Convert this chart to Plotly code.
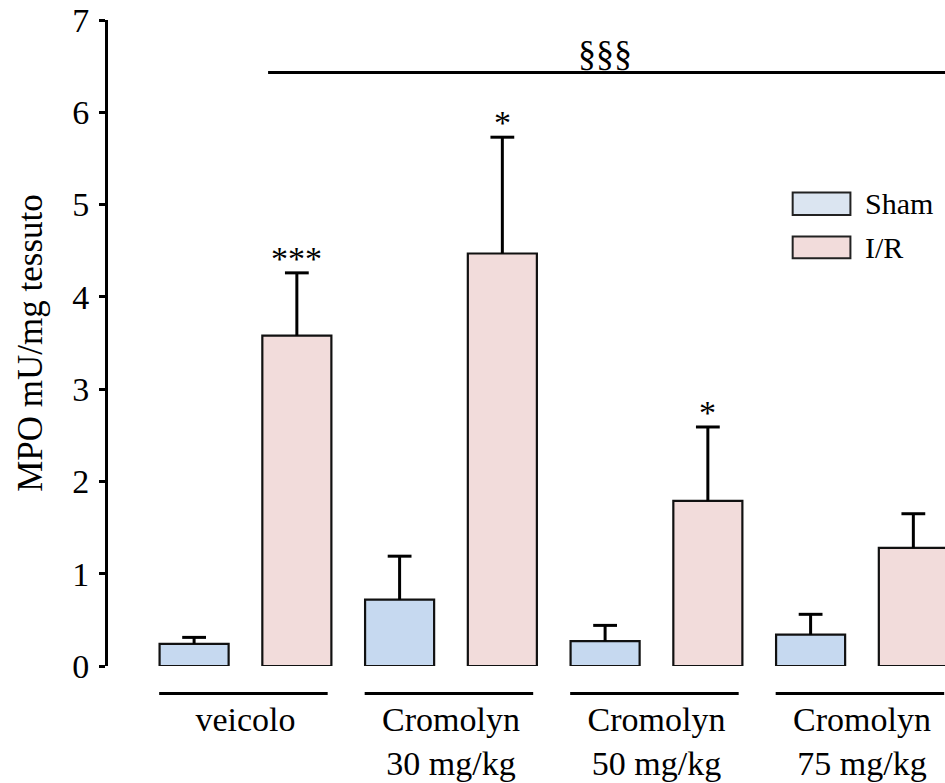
import plotly.graph_objects as go

# ---- data ----
groups = ["veicolo", "Cromolyn<br>30 mg/kg", "Cromolyn<br>50 mg/kg", "Cromolyn<br>75 mg/kg"]
series_names = ["Sham", "I/R"]
sham_vals = [0.24, 0.72, 0.27, 0.34]
sham_err = [0.07, 0.47, 0.17, 0.22]
ir_vals = [3.58, 4.47, 1.79, 1.28]
ir_err = [0.68, 1.26, 0.80, 0.37]
ir_sig = ["***", "*", "*", ""]
overall_sig = "§§§"
y_ticks = [0, 1, 2, 3, 4, 5, 6, 7]
y_title = "MPO mU/mg tessuto"

FONT = "Liberation Serif, Times New Roman, serif"
sham_fill = "#c6d9f0"
ir_fill = "#f2dcdb"
sham_legend_fill = "#dbe5f1"
ir_legend_fill = "#f2dcdb"
edge = "#111111"

OFF = 0.25
BW = 0.336
idx = list(range(len(groups)))

fig = go.Figure()


def add_series(vals, errs, fill, name, off):
    xs = [i + off for i in idx]
    fig.add_trace(go.Bar(
        x=xs, y=vals, width=[BW] * len(xs), name=name, showlegend=False,
        marker=dict(color=fill, line=dict(color=edge, width=2.2)),
        cliponaxis=False,
    ))
    # upward-only error bars: stems and caps
    sx, sy = [], []
    for x, v, e in zip(xs, vals, errs):
        sx += [x, x, None]
        sy += [v, v + e, None]
    fig.add_trace(go.Scatter(x=sx, y=sy, mode="lines", showlegend=False, hoverinfo="skip",
                             line=dict(color="black", width=3), cliponaxis=False))
    fig.add_trace(go.Scatter(x=xs, y=[v + e for v, e in zip(vals, errs)], mode="markers",
                             showlegend=False, hoverinfo="skip", cliponaxis=False,
                             marker=dict(symbol="line-ew", size=17, color="black",
                                         line=dict(color="black", width=3))))


add_series(sham_vals, sham_err, sham_fill, series_names[0], -OFF)
add_series(ir_vals, ir_err, ir_fill, series_names[1], OFF)

shapes = []
annotations = []

# group underlines
for i in idx:
    shapes.append(dict(type="line", xref="x", yref="paper",
                       x0=i - 0.42, x1=i + 0.40, y0=-0.0425, y1=-0.0425,
                       line=dict(color="black", width=3)))

# significance stars above I/R bars
for i, s in enumerate(ir_sig):
    if s:
        annotations.append(dict(x=i + OFF, y=ir_vals[i] + ir_err[i], xref="x", yref="y",
                                text=s, showarrow=False, yanchor="bottom", yshift=-6,
                                font=dict(family=FONT, size=34, color="black")))

# overall significance line and label
shapes.append(dict(type="line", xref="x", yref="y", x0=0.11, x1=3.5, y0=6.43, y1=6.43,
                   line=dict(color="black", width=3)))
annotations.append(dict(x=1.75, y=6.43, xref="x", yref="y", text=overall_sig,
                        showarrow=False, yanchor="bottom", yshift=-2,
                        font=dict(family=FONT, size=36, color="black")))

# manual legend
leg_fills = [sham_legend_fill, ir_legend_fill]
leg_y = [(0.698, 0.733), (0.631, 0.665)]
for k, name in enumerate(series_names):
    y0, y1 = leg_y[k]
    shapes.append(dict(type="rect", xref="paper", yref="paper",
                       x0=0.818, x1=0.887, y0=y0, y1=y1,
                       fillcolor=leg_fills[k], line=dict(color="#222222", width=2)))
    annotations.append(dict(x=0.902, y=(y0 + y1) / 2, xref="paper", yref="paper",
                            text=name, showarrow=False, xanchor="left", yanchor="middle",
                            font=dict(family=FONT, size=30, color="black")))

fig.update_layout(
    width=945, height=783,
    margin=dict(l=108, r=0, t=19.5, b=116.5),
    paper_bgcolor="white", plot_bgcolor="white",
    barmode="overlay",
    font=dict(family=FONT, color="black"),
    shapes=shapes, annotations=annotations,
    xaxis=dict(range=[-0.669, 3.404], tickvals=idx, ticktext=groups,
               showline=False, ticks="", showgrid=False, zeroline=False,
               tickfont=dict(family=FONT, size=34), ticklabelstandoff=30),
    yaxis=dict(range=[0, 7], tickvals=y_ticks, ticks="outside", ticklen=6, tickwidth=3,
               tickcolor="black", showline=True, linewidth=3, linecolor="black",
               showgrid=False, zeroline=False, tickfont=dict(family=FONT, size=34),
               ticklabelstandoff=3,
               title=dict(text=y_title, font=dict(family=FONT, size=35), standoff=19)),
)

fig.write_html("out.html")
